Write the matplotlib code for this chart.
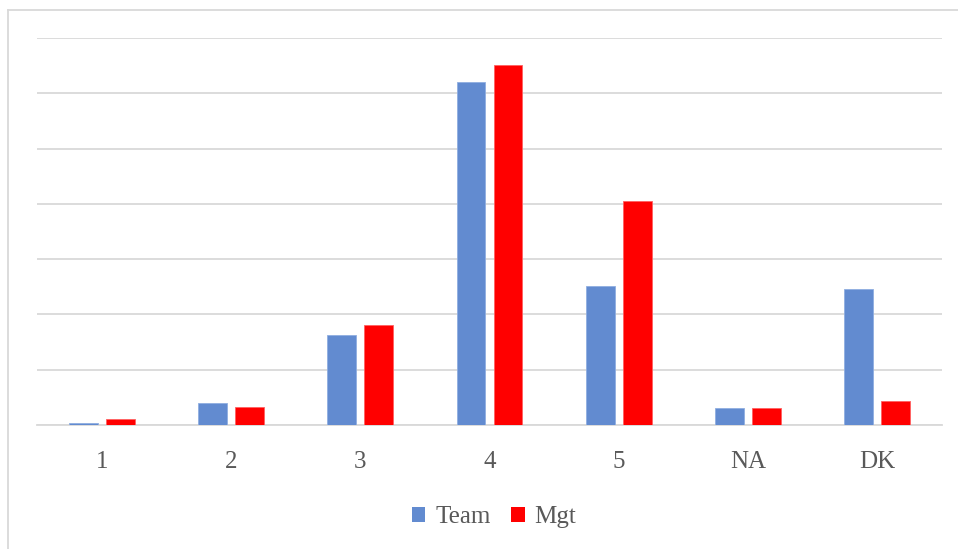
import matplotlib
matplotlib.use("Agg")
import matplotlib.pyplot as plt
import numpy as np
from matplotlib.lines import Line2D
from matplotlib.patches import Patch

categories = ["1", "2", "3", "4", "5", "NA", "DK"]
team = [0.2, 2.0, 8.1, 31.0, 12.6, 1.5, 12.3]
mgt = [0.5, 1.6, 9.0, 32.6, 20.3, 1.5, 2.2]
series_names = ["Team", "Mgt"]

team_color = "#628BD0"
mgt_color = "#FF0000"
grid_color = "#D9D9D9"
text_color = "#595959"

W, H = 958, 549
fig = plt.figure(figsize=(W / 100, H / 100), dpi=100)
fig.patch.set_facecolor("white")

ax = fig.add_axes([37 / W, 1 - 425 / H, (942 - 37) / W, (425 - 38) / H])

x = np.arange(len(categories))
bw = 0.224
off = 0.143
ax.bar(x - off, team, bw, color=team_color, edgecolor="#8FAEE0", linewidth=0.6, zorder=3)
ax.bar(x + off, mgt, bw, color=mgt_color, edgecolor="#FF6060", linewidth=0.6, zorder=3)

ax.set_xlim(-0.5, len(categories) - 0.5)
ax.set_ylim(0, 35)
ax.set_yticks(np.arange(0, 36, 5))
ax.yaxis.grid(True, color=grid_color, linewidth=1.3, zorder=0)
ax.set_axisbelow(True)
ax.tick_params(axis="y", left=False, labelleft=False)
ax.tick_params(axis="x", bottom=False, pad=15)
ax.set_xticks(x)
ax.set_xticklabels(categories, fontfamily="Liberation Serif", fontsize=18, color=text_color)
for s in ["top", "right", "left"]:
    ax.spines[s].set_visible(False)
ax.spines["bottom"].set_color(grid_color)
ax.spines["bottom"].set_linewidth(1.3)

# outer chart frame (left and top edges)
fig.add_artist(Line2D([7.5 / W, 7.5 / W], [0, 1 - 9.5 / H], color=grid_color, linewidth=1.3, transform=fig.transFigure))
fig.add_artist(Line2D([7.5 / W, 1], [1 - 9.5 / H, 1 - 9.5 / H], color=grid_color, linewidth=1.3, transform=fig.transFigure))

handles = [Patch(facecolor=team_color, edgecolor="none"), Patch(facecolor=mgt_color, edgecolor="none")]
fig.legend(handles, series_names, loc="center", bbox_to_anchor=(494 / W, 1 - 517 / H), ncol=2,
           frameon=False, prop={"family": "Liberation Serif", "size": 18},
           labelcolor=text_color, handlelength=0.55, handleheight=0.55,
           handletextpad=0.4, columnspacing=0.8)

fig.savefig("out.png", dpi=100, facecolor="white")
